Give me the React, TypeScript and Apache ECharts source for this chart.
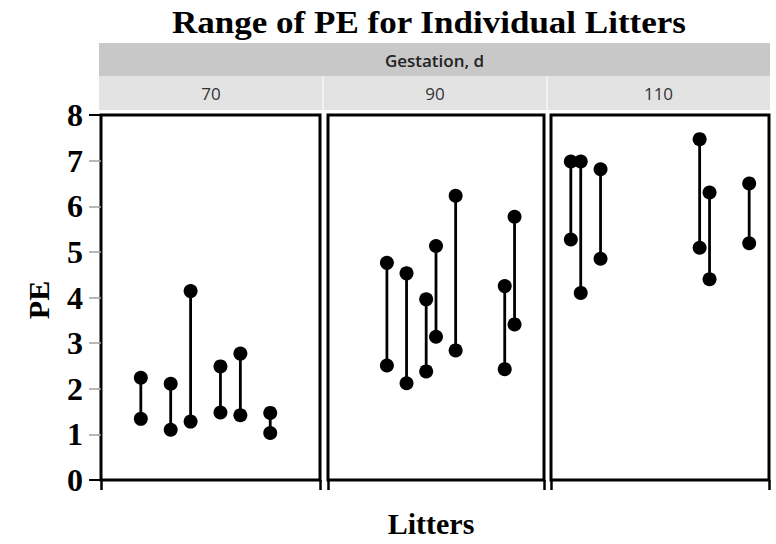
import React, { useEffect, useRef } from "react";
import * as echarts from "echarts";

// ---- data ----
const panels = ["70", "90", "110"];
const litters70 = [4, 7, 9, 12, 14, 17];
const lo70 = [1.34, 1.1, 1.28, 1.48, 1.42, 1.03];
const hi70 = [2.24, 2.11, 4.14, 2.49, 2.77, 1.47];
const litters90 = [6, 8, 10, 11, 13, 18, 19];
const lo90 = [2.51, 2.12, 2.38, 3.14, 2.84, 2.43, 3.41];
const hi90 = [4.76, 4.53, 3.96, 5.13, 6.23, 4.25, 5.77];
const litters110 = [2, 3, 5, 15, 16, 20];
const lo110 = [5.27, 4.1, 4.85, 5.09, 4.4, 5.19];
const hi110 = [6.98, 6.98, 6.81, 7.47, 6.3, 6.5];
const yTicks = [0, 1, 2, 3, 4, 5, 6, 7, 8];

const groups = [
  { x: litters70, lo: lo70, hi: hi70 },
  { x: litters90, lo: lo90, hi: hi90 },
  { x: litters110, lo: lo110, hi: hi110 },
];

const SERIF = "'Liberation Serif', 'Times New Roman', serif";
const SANS = "'Open Sans', 'Noto Sans', sans-serif";

const gridBoxes = [
  { left: 101, width: 219 },
  { left: 328, width: 216 },
  { left: 551, width: 218 },
];
const TOP = 115;
const HEIGHT = 365;

export default function App() {
  const ref = useRef<HTMLDivElement>(null);
  useEffect(() => {
    document.body.style.margin = "0";
    const chart = echarts.init(ref.current!, undefined, { renderer: "svg" });

    const grids = gridBoxes.map((g) => ({
      left: g.left,
      top: TOP,
      width: g.width,
      height: HEIGHT,
      show: true,
      backgroundColor: "#fff",
      borderColor: "#000",
      borderWidth: 3,
      containLabel: false,
    }));

    const xAxes = gridBoxes.map((_, i) => ({
      type: "value",
      gridIndex: i,
      min: 0,
      max: 22,
      interval: 22,
      axisLine: { show: false },
      axisLabel: { show: false },
      splitLine: { show: false },
      axisTick: { show: true, length: 10, lineStyle: { color: "#000", width: 2.5 } },
    }));

    const yAxes: any[] = gridBoxes.map((_, i) => ({
      type: "value",
      gridIndex: i,
      min: yTicks[0],
      max: yTicks[yTicks.length - 1],
      interval: 1,
      axisLine: { show: false },
      splitLine: { show: false },
      axisTick: { show: i === 0, length: 12, lineStyle: { color: "#a0a0a0", width: 1.5 } },
      axisLabel: {
        show: i === 0,
        margin: 18,
        fontSize: 32,
        fontWeight: "bold",
        fontFamily: SERIF,
        color: "#000",
      },
    }));
    // black end ticks at 0 and 8
    yAxes.push({
      type: "value",
      gridIndex: 0,
      min: yTicks[0],
      max: yTicks[yTicks.length - 1],
      interval: 8,
      position: "left",
      axisLine: { show: false },
      splitLine: { show: false },
      axisLabel: { show: false },
      axisTick: { show: true, length: 12, lineStyle: { color: "#000", width: 2 } },
    });

    const series = groups.map((g, i) => ({
      type: "custom",
      xAxisIndex: i,
      yAxisIndex: i,
      clip: false,
      encode: { x: 0, y: [1, 2] },
      data: g.x.map((x, k) => [x, g.lo[k], g.hi[k]]),
      renderItem: (params: any, api: any) => {
        const x = api.value(0);
        const p1 = api.coord([x, api.value(1)]);
        const p2 = api.coord([x, api.value(2)]);
        return {
          type: "group",
          children: [
            {
              type: "line",
              shape: { x1: p1[0], y1: p1[1], x2: p2[0], y2: p2[1] },
              style: { stroke: "#000", lineWidth: 2.8 },
            },
            { type: "circle", shape: { cx: p1[0], cy: p1[1], r: 7 }, style: { fill: "#000" } },
            { type: "circle", shape: { cx: p2[0], cy: p2[1], r: 7 }, style: { fill: "#000" } },
          ],
        };
      },
    }));

    const stripLeft = 99;
    const stripRight = 770;
    const cellEdges = [99, 323, 547, 770];

    const graphic: any[] = [
      {
        type: "text",
        x: 429,
        y: 23,
        scaleX: 1.13,
        style: {
          text: "Range of PE for Individual Litters",
          font: `bold 31px ${SERIF}`,
          fill: "#000",
          textAlign: "center",
          textVerticalAlign: "middle",
        },
      },
      {
        type: "rect",
        shape: { x: stripLeft, y: 43, width: stripRight - stripLeft, height: 33 },
        style: { fill: "#c8c8c8" },
      },
      {
        type: "rect",
        shape: { x: stripLeft, y: 76, width: stripRight - stripLeft, height: 34 },
        style: { fill: "#e3e3e3" },
      },
      {
        type: "text",
        x: (stripLeft + stripRight) / 2,
        y: 60,
        style: {
          text: "Gestation, d",
          font: `600 17px ${SANS}`,
          fill: "#222",
          textAlign: "center",
          textVerticalAlign: "middle",
        },
      },
      ...[1, 2].map((k) => ({
        type: "line",
        shape: { x1: cellEdges[k], y1: 76, x2: cellEdges[k], y2: 110 },
        style: { stroke: "#f7f7f7", lineWidth: 1.5 },
      })),
      ...panels.map((p, k) => ({
        type: "text",
        x: (cellEdges[k] + cellEdges[k + 1]) / 2,
        y: 93,
        style: {
          text: p,
          font: `17px ${SANS}`,
          fill: "#333",
          textAlign: "center",
          textVerticalAlign: "middle",
        },
      })),
      {
        type: "text",
        x: 38,
        y: 300,
        rotation: Math.PI / 2,
        style: {
          text: "PE",
          font: `bold 30px ${SERIF}`,
          fill: "#000",
          textAlign: "center",
          textVerticalAlign: "middle",
        },
      },
      {
        type: "text",
        x: 431,
        y: 523,
        style: {
          text: "Litters",
          font: `bold 30px ${SERIF}`,
          fill: "#000",
          textAlign: "center",
          textVerticalAlign: "middle",
        },
      },
    ];

    chart.setOption({
      animation: false,
      backgroundColor: "#fff",
      grid: grids,
      xAxis: xAxes,
      yAxis: yAxes,
      series,
      graphic,
    });
    return () => chart.dispose();
  }, []);
  return <div ref={ref} style={{ width: 776, height: 544 }} />;
}
